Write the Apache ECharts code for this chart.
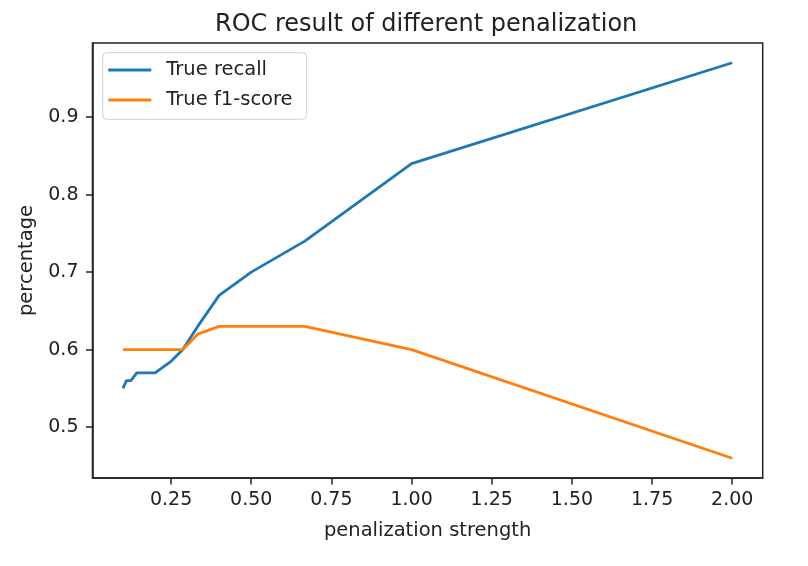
<!DOCTYPE html>
<html>
<head>
<meta charset="utf-8">
<title>ROC result of different penalization</title>
<script src="https://cdn.jsdelivr.net/npm/echarts@6/dist/echarts.min.js"></script>
<style>
  html, body { margin: 0; padding: 0; background: #fff; }
  #main { width: 808px; height: 566px; }
</style>
</head>
<body>
<div id="main"></div>
<script>
// penalization strength (1 / C)
var strength = [0.1, 0.111, 0.125, 0.143, 0.167, 0.2, 0.25, 0.286, 0.333, 0.4, 0.5, 0.667, 1.0, 2.0];
var recall = [0.55, 0.56, 0.56, 0.57, 0.57, 0.57, 0.585, 0.60, 0.63, 0.67, 0.70, 0.74, 0.84, 0.97];
var f1score = [0.60, 0.60, 0.60, 0.60, 0.60, 0.60, 0.60, 0.60, 0.62, 0.63, 0.63, 0.63, 0.60, 0.46];

var xTicks = [0.25, 0.5, 0.75, 1.0, 1.25, 1.5, 1.75, 2.0];
var yTicks = [0.5, 0.6, 0.7, 0.8, 0.9];

var FONT = 'DejaVu Sans';
var INK = '#222';

function pairs(xs, ys) {
    var out = [];
    for (var i = 0; i < xs.length; i++) {
        out.push([xs[i], ys[i]]);
    }
    return out;
}

var chartDom = document.getElementById('main');
var myChart = echarts.init(chartDom, null, { renderer: 'canvas' });
var option;

option = {
    animation: false,
    textStyle: { fontFamily: FONT },
    title: {
        text: 'ROC result of different penalization',
        // centred over the plot area, not the canvas
        left: 210,
        top: 8,
        textStyle: { fontFamily: FONT, fontSize: 24, fontWeight: 'normal', color: INK }
    },
    legend: {
        orient: 'vertical',
        left: 102.7,
        top: 52.7,
        padding: [7.3, 14, 9.3, 5.6],
        itemGap: 10,
        itemWidth: 43,
        itemHeight: 3,
        icon: 'rect',
        backgroundColor: 'rgba(255,255,255,0.8)',
        borderColor: '#d0d0d0',
        borderWidth: 1,
        borderRadius: 4,
        textStyle: {
            fontFamily: FONT,
            fontSize: 19.5,
            color: INK,
            lineHeight: 20,
            padding: [0, 0, 0, 10]
        },
        data: ['True recall', 'True f1-score']
    },
    grid: {
        left: 92.5,
        top: 43,
        right: 45.3,
        bottom: 88,
        show: true,
        borderColor: INK,
        borderWidth: 1.5,
        backgroundColor: '#fff'
    },
    xAxis: {
        type: 'value',
        min: 0.005,
        max: 2.095,
        name: 'penalization strength',
        nameLocation: 'middle',
        nameGap: 43,
        nameTextStyle: { fontFamily: FONT, fontSize: 19.5, color: INK },
        axisLine: { show: true, lineStyle: { color: INK, width: 1.5 } },
        axisTick: { show: true, length: 6.5, lineStyle: { color: INK, width: 1.5 }, customValues: xTicks },
        axisLabel: {
            margin: 13,
            fontFamily: FONT,
            fontSize: 19,
            color: INK,
            customValues: xTicks,
            formatter: function (v) { return v.toFixed(2); }
        },
        splitLine: { show: false }
    },
    yAxis: {
        type: 'value',
        min: 0.4345,
        max: 0.9955,
        name: 'percentage',
        nameLocation: 'middle',
        nameGap: 55,
        nameTextStyle: { fontFamily: FONT, fontSize: 19.5, color: INK },
        axisLine: { show: true, lineStyle: { color: INK, width: 1.5 } },
        axisTick: { show: true, length: 6.5, lineStyle: { color: INK, width: 1.5 }, customValues: yTicks },
        axisLabel: {
            margin: 14,
            fontFamily: FONT,
            fontSize: 19,
            color: INK,
            customValues: yTicks,
            formatter: function (v) { return v.toFixed(1); }
        },
        splitLine: { show: false }
    },
    series: [
        {
            name: 'True recall',
            type: 'line',
            showSymbol: false,
            color: '#1f77b4',
            lineStyle: { width: 2.8, color: '#1f77b4' },
            data: pairs(strength, recall)
        },
        {
            name: 'True f1-score',
            type: 'line',
            showSymbol: false,
            color: '#ff7f0e',
            lineStyle: { width: 2.8, color: '#ff7f0e' },
            data: pairs(strength, f1score)
        }
    ]
};

option && myChart.setOption(option);
</script>
</body>
</html>
